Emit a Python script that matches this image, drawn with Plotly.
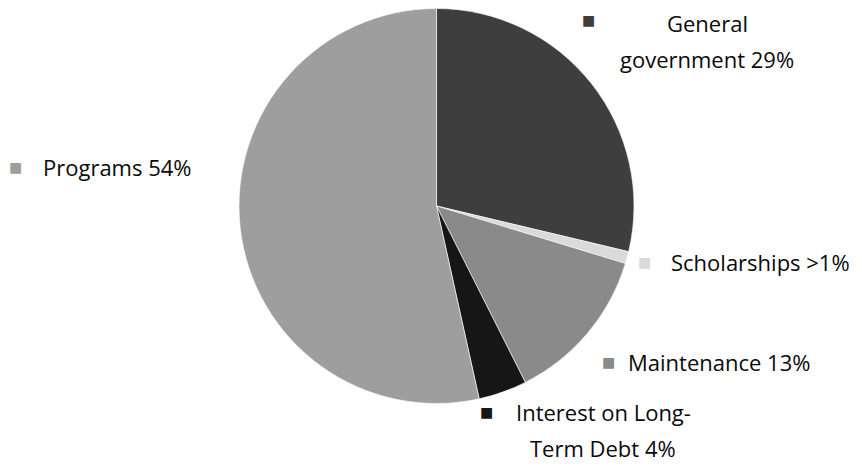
import plotly.graph_objects as go

categories = ["General government", "Scholarships", "Maintenance",
              "Interest on Long-Term Debt", "Programs"]
values = [29, 1, 13, 4, 54]
pct_labels = ["29%", ">1%", "13%", "4%", "54%"]
colors = ["#3e3e3e", "#dadada", "#8a8a8a", "#161616", "#9e9e9e"]

# label text lines as displayed (with the wraps used in the reference)
label_lines = [["General", "government 29%"], ["Scholarships >1%"], ["Maintenance 13%"],
               ["Interest on Long-", "Term Debt 4%"], ["Programs 54%"]]

W, H = 862, 470
OFF = 8  # page body margin offset
# pie geometry in page pixels
cx, cy, r = 436.5 - OFF, 206 - OFF, 197.5

fig = go.Figure(go.Pie(
    labels=categories,
    values=values,
    sort=False,
    direction="clockwise",
    rotation=0,
    textinfo="none",
    hoverinfo="label+percent",
    marker=dict(colors=colors, line=dict(color="#ffffff", width=0.6)),
    domain=dict(x=[max(0, (cx - r) / W), min(1, (cx + r) / W)],
                y=[max(0, (H - cy - r) / H), min(1, (H - cy + r) / H)]),
    showlegend=False,
))

# (square x, square y, text x, first-line y, anchor) in page pixels
label_pos = [
    (588, 20, 707, 23, "center"),
    (644, 262, 669, 262, "left"),
    (608, 362, 626, 362, "left"),
    (486, 412, 603, 412, "center"),
    (15, 167, 41, 167, "left"),
]
line_gap = 36

font_family = "'Open Sans', sans-serif"
for i, (sx, sy, tx, ty, anc) in enumerate(label_pos):
    fig.add_annotation(
        x=(sx - OFF) / W, y=1 - (sy - OFF) / H, xref="paper", yref="paper",
        text="■", showarrow=False, xanchor="center", yanchor="middle",
        font=dict(family="DejaVu Sans", size=14, color=colors[i]),
    )
    for j, line in enumerate(label_lines[i]):
        fig.add_annotation(
            x=(tx - OFF) / W, y=1 - (ty + j * line_gap - OFF) / H,
            xref="paper", yref="paper",
            text=line, showarrow=False,
            xanchor="center" if anc == "center" else "left", yanchor="middle",
            font=dict(family=font_family, size=22, color="#0a0a0a"),
        )

fig.update_layout(
    width=W, height=H,
    margin=dict(l=0, r=0, t=0, b=0),
    paper_bgcolor="white",
    plot_bgcolor="white",
)

fig.write_html("out.html")
